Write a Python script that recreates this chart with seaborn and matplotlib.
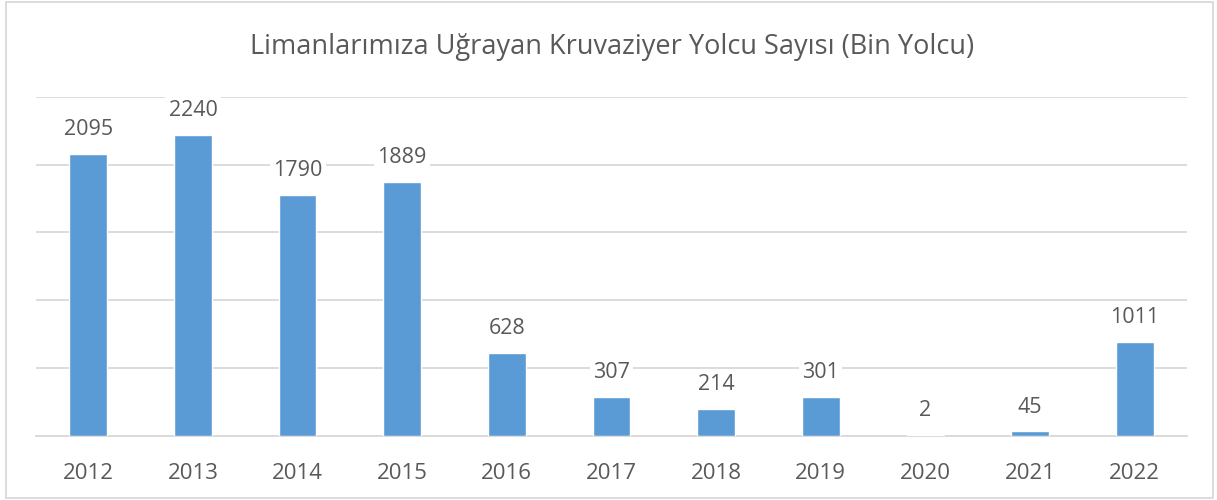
import pandas as pd
import numpy as np
import matplotlib
matplotlib.use('Agg')
import matplotlib.pyplot as plt
import seaborn as sns
from matplotlib.patches import Rectangle

# data (2022 bar is drawn shorter than its label in the source chart)
years = ['2012', '2013', '2014', '2015', '2016', '2017', '2018', '2019', '2020', '2021', '2022']
bar_values = [2080, 2220, 1775, 1870, 608, 288, 196, 282, 2, 30, 690]
value_labels = ['2095', '2240', '1790', '1889', '628', '307', '214', '301', '2', '45', '1011']
title = 'Limanlarımıza Uğrayan Kruvaziyer Yolcu Sayısı (Bin Yolcu)'

df = pd.DataFrame({'Yil': years, 'Yolcu': bar_values})

sns.set_theme(style='white')
plt.rcParams['font.family'] = ['Open Sans', 'DejaVu Sans']

text_col = '#595959'
grid_col = '#D9D9D9'
bar_col = '#5B9BD5'

fig = plt.figure(figsize=(12.17, 5), dpi=100)
ax = fig.add_axes([36 / 1217, 64.5 / 500, (1187 - 36) / 1217, (435.5 - 97) / 500])

sns.barplot(data=df, x='Yil', y='Yolcu', color=bar_col, width=0.36,
            saturation=1, ax=ax, zorder=3)

ax.set_ylim(0, 2500)
ax.set_xlim(-0.5, len(years) - 0.5)
ax.set_yticks(np.arange(0, 2501, 500))
ax.yaxis.grid(True, color=grid_col, linewidth=1.3, zorder=0)
ax.set_axisbelow(True)
ax.set_yticklabels([])
ax.tick_params(axis='y', length=0)
ax.set_xlabel('')
ax.set_ylabel('')

for s in ['top', 'right', 'left']:
    ax.spines[s].set_visible(False)
ax.spines['bottom'].set_color(grid_col)
ax.spines['bottom'].set_linewidth(1.3)

# tick marks between categories
ax.set_xticks(np.arange(-0.5, len(years), 1), minor=True)
ax.tick_params(axis='x', which='minor', length=7, width=1.3, color=grid_col, direction='out')
ax.tick_params(axis='x', which='major', length=0, pad=20, labelsize=16, labelcolor=text_col)

for i, (v, lab) in enumerate(zip(bar_values, value_labels)):
    ax.annotate(lab, (i, v), xytext=(0, 10), textcoords='offset points',
                ha='center', va='bottom', fontsize=15.5, color=text_col, zorder=5,
                bbox=dict(boxstyle='square,pad=0.15', fc='white', ec='none'))

fig.text(612 / 1217, 1 - 47 / 500, title, ha='center', va='center',
         fontsize=19.5, color=text_col)

fig.patches.append(Rectangle((6 / 1217, 2 / 500), 1207 / 1217, 496 / 500,
                             transform=fig.transFigure, fill=False,
                             edgecolor=grid_col, linewidth=1.3))

plt.savefig('out.png', dpi=100)
